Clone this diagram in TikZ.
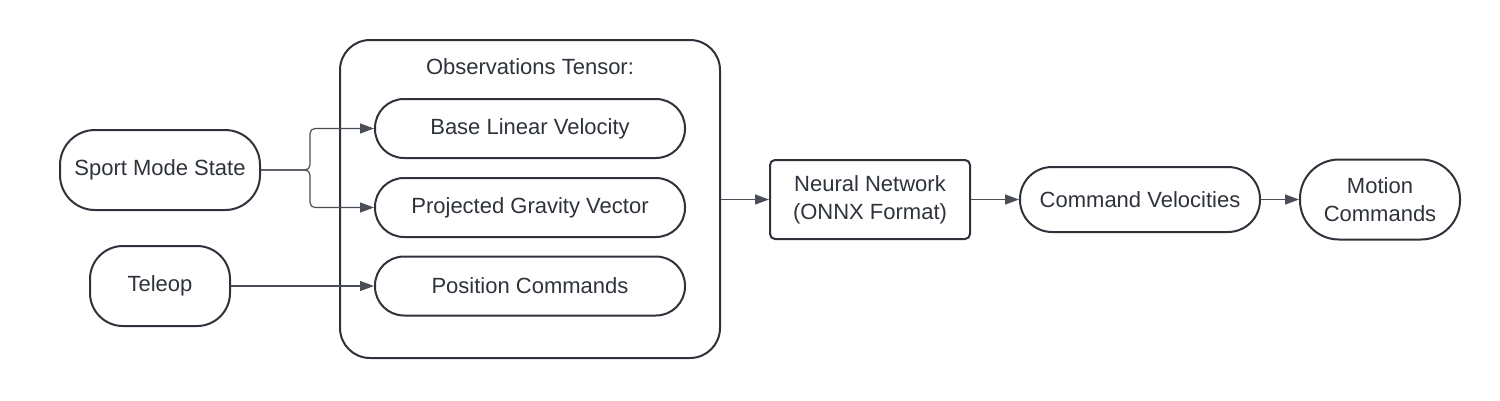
\documentclass[tikz,border=0pt]{standalone}
\usepackage{fontspec}
\setmainfont{Liberation Sans}
\usetikzlibrary{arrows.meta}
\definecolor{ink}{HTML}{2E333B}
\definecolor{wire}{HTML}{4A4F57}
\begin{document}
\begin{tikzpicture}[x=1pt,y=-1pt,
  box/.style={draw=ink, line width=2pt, text=ink, align=center, inner sep=0pt,
    font=\fontsize{22}{28}\selectfont},
  conn/.style={draw=wire, line width=1.2pt, -{Triangle[length=14pt,width=10pt]}}]
\useasboundingbox[fill=white] (0,0) rectangle (1500,400);
% container
\node[box, rounded corners=30pt, minimum width=380pt, minimum height=318pt] (obs) at (530,199) {};
\node[text=ink, font=\fontsize{22}{28}\selectfont] (obstitle) at (530,67) {Observations Tensor:};
% inner items
\node[box, rounded corners=29pt, minimum width=310pt, minimum height=59pt] (base) at (530,128.5) {Base Linear Velocity};
\node[box, rounded corners=29pt, minimum width=310pt, minimum height=59pt] (grav) at (530,207.5) {Projected Gravity Vector};
\node[box, rounded corners=29pt, minimum width=310pt, minimum height=59pt] (pos) at (530,286) {Position Commands};
% sources
\node[box, rounded corners=35pt, minimum width=200pt, minimum height=80pt] (sport) at (160,170) {Sport Mode State};
\node[box, rounded corners=33pt, minimum width=140pt, minimum height=80pt] (teleop) at (160,286) {Teleop};
% right chain
\node[box, rounded corners=5pt, minimum width=200pt, minimum height=79pt] (nn) at (870,199.5) {Neural Network\\(ONNX Format)};
\node[box, rounded corners=32pt, minimum width=240pt, minimum height=65pt] (cmdv) at (1140,199.5) {Command Velocities};
\node[box, rounded corners=39pt, minimum width=160pt, minimum height=80pt] (motion) at (1380,199.5) {Motion\\Commands};
% connectors
\coordinate (split) at (310,170);
\draw[conn, rounded corners=5pt] (sport.east) -- (split) |- (base.west);
\draw[conn, rounded corners=5pt] (sport.east) -- (split) |- (grav.west);
\draw[conn] (teleop.east) -- (pos.west);
\draw[conn] (obs.east |- nn.west) -- (nn.west);
\draw[conn] (nn.east) -- (cmdv.west);
\draw[conn] (cmdv.east) -- (motion.west);
\end{tikzpicture}
\end{document}
